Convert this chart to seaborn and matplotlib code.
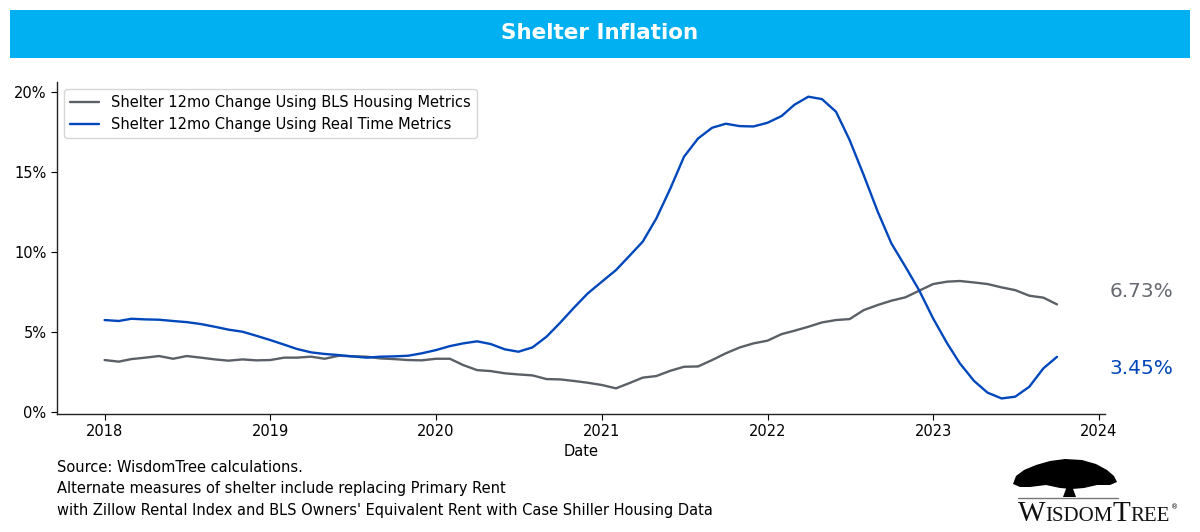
import numpy as np
import pandas as pd
import matplotlib
matplotlib.use("Agg")
import matplotlib.pyplot as plt
import matplotlib.patches as mpatches
from matplotlib.ticker import FuncFormatter, MultipleLocator
import seaborn as sns

# ---------------- data ----------------
dates = pd.date_range("2018-01-01", periods=70, freq="MS")

bls_housing = [3.25, 3.15, 3.31, 3.40, 3.50, 3.33, 3.50, 3.40, 3.29, 3.21, 3.29, 3.23,
               3.25, 3.40, 3.40, 3.46, 3.33, 3.52, 3.48, 3.46, 3.35, 3.31, 3.25, 3.23,
               3.33, 3.33, 2.94, 2.62, 2.56, 2.42, 2.35, 2.29, 2.06, 2.04, 1.94, 1.83,
               1.69, 1.48, 1.79, 2.15, 2.25, 2.58, 2.83, 2.85, 3.25, 3.67, 4.04, 4.29,
               4.46, 4.87, 5.08, 5.33, 5.60, 5.75, 5.81, 6.37, 6.69, 6.96, 7.17, 7.58,
               8.00, 8.15, 8.19, 8.10, 8.00, 7.79, 7.62, 7.27, 7.15, 6.73]

real_time = [5.75, 5.69, 5.83, 5.79, 5.77, 5.69, 5.62, 5.50, 5.33, 5.15, 5.02, 4.77,
             4.50, 4.21, 3.94, 3.73, 3.63, 3.56, 3.48, 3.40, 3.46, 3.48, 3.52, 3.67,
             3.87, 4.12, 4.29, 4.42, 4.25, 3.92, 3.77, 4.04, 4.71, 5.58, 6.54, 7.42,
             8.15, 8.87, 9.71, 10.65, 12.10, 13.98, 15.96, 17.10, 17.77, 18.02, 17.87, 17.85,
             18.08, 18.50, 19.20, 19.71, 19.56, 18.77, 17.00, 14.81, 12.52, 10.54, 9.08, 7.62,
             5.85, 4.29, 3.04, 1.95, 1.21, 0.85, 0.96, 1.58, 2.73, 3.45]

series_names = ["Shelter 12mo Change Using BLS Housing Metrics",
                "Shelter 12mo Change Using Real Time Metrics"]
title_text = "Shelter Inflation"
footnote_lines = ["Source: WisdomTree calculations.",
                  "Alternate measures of shelter include replacing Primary Rent",
                  "with Zillow Rental Index and BLS Owners' Equivalent Rent with Case Shiller Housing Data"]

GRAY = "#5b6067"
BLUE = "#0047bb"
BANNER = "#00b0f0"

df = pd.DataFrame({
    "Date": list(dates) * 2,
    "value": bls_housing + real_time,
    "series": [series_names[0]] * len(dates) + [series_names[1]] * len(dates),
})

# ---------------- figure ----------------
sns.set_style("ticks")
plt.rcParams["font.family"] = ["DejaVu Sans"]
for k in ["text.color", "axes.labelcolor", "xtick.color", "ytick.color", "axes.edgecolor"]:
    plt.rcParams[k] = "black"

fig = plt.figure(figsize=(12, 5.32), dpi=100)
ax = fig.add_axes([0.0475, 0.2227, 0.873, 0.6239])

sns.lineplot(data=df, x="Date", y="value", hue="series",
             palette=[GRAY, BLUE], linewidth=1.7, ax=ax)

sns.despine(ax=ax)
ax.yaxis.set_major_locator(MultipleLocator(5))
ax.yaxis.set_major_formatter(FuncFormatter(lambda v, p: f"{v:.0f}%"))
ax.set_ylabel("")
ax.set_xlabel("Date", fontsize=10.5)
ax.tick_params(labelsize=10.5, colors="black", length=4)
for s in ["left", "bottom"]:
    ax.spines[s].set_color("#222222")
    ax.spines[s].set_linewidth(1.0)

leg = ax.legend(loc="upper left", fontsize=10.5, frameon=True, title=None)
for line in leg.get_lines():
    line.set_linewidth(1.7)
for t in leg.get_texts():
    t.set_color("black")

# end-value annotations
trans = matplotlib.transforms.blended_transform_factory(ax.transAxes, ax.transData)
ax.text(1.005, bls_housing[-1] + 0.8, f"{bls_housing[-1]:.2f}%", transform=trans,
        color="#666a70", fontsize=14.5, va="center", ha="left")
ax.text(1.005, real_time[-1] - 0.7, f"{real_time[-1]:.2f}%", transform=trans,
        color=BLUE, fontsize=14.5, va="center", ha="left")

# title banner
fig.patches.append(mpatches.Rectangle((10 / 1200, 1 - 58 / 532), 1180 / 1200, 48 / 532,
                                      transform=fig.transFigure, facecolor=BANNER,
                                      edgecolor="none", zorder=0))
fig.text(0.5, 1 - 33 / 532, title_text, color="white", fontsize=15.5,
         fontweight="bold", ha="center", va="center")

# footnote
for i, line in enumerate(footnote_lines):
    fig.text(57 / 1200, 1 - (468 + 21 * i) / 532, line, fontsize=10.5,
             ha="left", va="center", color="black")

# WisdomTree logo (approximation) drawn in pixel space
lax = fig.add_axes([0, 0, 1, 1], zorder=-1)
lax.set_xlim(0, 1200)
lax.set_ylim(532, 0)
lax.axis("off")
canopy = [(1013, 484), (1016, 476), (1024, 470), (1036, 465), (1050, 461), (1065, 459),
          (1082, 460), (1096, 464), (1107, 470), (1114, 476), (1117, 482), (1110, 485),
          (1097, 485), (1084, 488), (1072, 489), (1060, 488), (1046, 485), (1030, 487),
          (1020, 487)]
lax.add_patch(mpatches.Polygon(canopy, closed=True, color="black", lw=0))
lax.add_patch(mpatches.Polygon([(1063, 497), (1076, 497), (1072, 486), (1067, 486)],
                               closed=True, color="black", lw=0))
lax.plot([1018, 1118], [498, 498], color="#777777", lw=1)

fig.canvas.draw()
renderer = fig.canvas.get_renderer()
parts = [("W", 21), ("ISDOM", 15), ("T", 21), ("REE", 15)]
xpos = 1018
for txt, fs in parts:
    t = lax.text(xpos, 521, txt, family="Liberation Serif", fontsize=fs,
                 ha="left", va="baseline", color="#111111")
    bb = t.get_window_extent(renderer=renderer)
    xpos += bb.width
lax.text(xpos + 1, 507, "®", fontsize=5, ha="left", va="center", color="black")

fig.savefig("out.png", dpi=100, facecolor="white")
